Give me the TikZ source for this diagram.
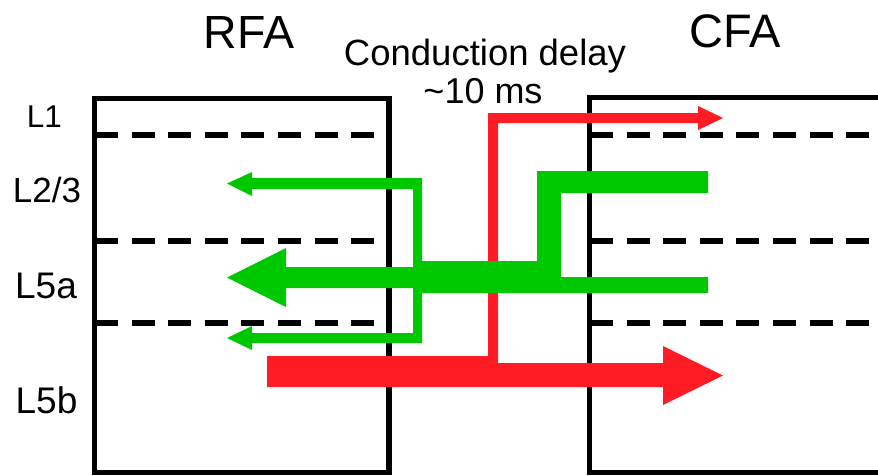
\documentclass[tikz,border=0pt]{standalone}
\usepackage{fontspec}
\setmainfont{Liberation Sans}
\definecolor{arrgreen}{RGB}{0,200,0}
\definecolor{arrred}{RGB}{255,28,36}
\begin{document}
\begin{tikzpicture}[x=1pt,y=-1pt,
  boxline/.style={line width=5.5pt,black},
  layerline/.style={line width=5.5pt,black,dash pattern=on 23pt off 13.6pt},
  greenfill/.style={fill=arrgreen},
  redfill/.style={fill=arrred},
  lbl/.style={inner sep=0pt,anchor=base,text=black}]
\useasboundingbox (0,0) rectangle (878,475);
% boxes
\draw[boxline] (94.5,98.5) rectangle (389,472.5);
\draw[boxline] (589.5,97.5) rectangle (884,472.5);
% layer boundaries
\foreach \yy in {135,241,323}{
  \draw[layerline] (95,\yy) -- (377,\yy);
  \draw[layerline] (590,\yy) -- (878,\yy);
}
% red pathway
\fill[redfill] (267,356) -- (488,356) -- (488,113) -- (698,113) -- (698,106)
  -- (723,118) -- (698,130) -- (698,123) -- (498,123) -- (498,363)
  -- (663,363) -- (663,346) -- (723,375.5) -- (663,405) -- (663,387)
  -- (267,387) -- cycle;
% green thin loop arrows
\fill[greenfill] (227,183.5) -- (252,172) -- (252,178) -- (422,178) -- (422,343)
  -- (252,343) -- (252,350) -- (227,338) -- (252,326) -- (252,333)
  -- (413,333) -- (413,189) -- (252,189) -- (252,196) -- cycle;
% green thick arrow with branches
\fill[greenfill] (227,277.5) -- (286,248) -- (286,267) -- (417,267) -- (417,261)
  -- (537,261) -- (537,171) -- (708,171) -- (708,193) -- (561,193)
  -- (561,277) -- (708,277) -- (708,293) -- (417,293) -- (417,288)
  -- (286,288) -- (286,307) -- cycle;
% texts
\node[lbl,font=\fontsize{46.5}{46.5}\selectfont] (rfa) at (249,48) {RFA};
\node[lbl,font=\fontsize{47}{47}\selectfont] (cfa) at (735,47) {CFA};
\node[lbl,font=\fontsize{36.5}{36.5}\selectfont] (delay) at (485,65) {Conduction delay};
\node[lbl,font=\fontsize{36}{36}\selectfont] (ms) at (483,103) {\textasciitilde 10 ms};
\node[lbl,font=\fontsize{31.5}{31.5}\selectfont] (l1) at (44.5,127) {L1};
\node[lbl,font=\fontsize{35}{35}\selectfont] (l23) at (47,202) {L2/3};
\node[lbl,font=\fontsize{37}{37}\selectfont] (l5a) at (46,298) {L5a};
\node[lbl,font=\fontsize{37}{37}\selectfont] (l5b) at (46.5,413) {L5b};
\end{tikzpicture}
\end{document}
